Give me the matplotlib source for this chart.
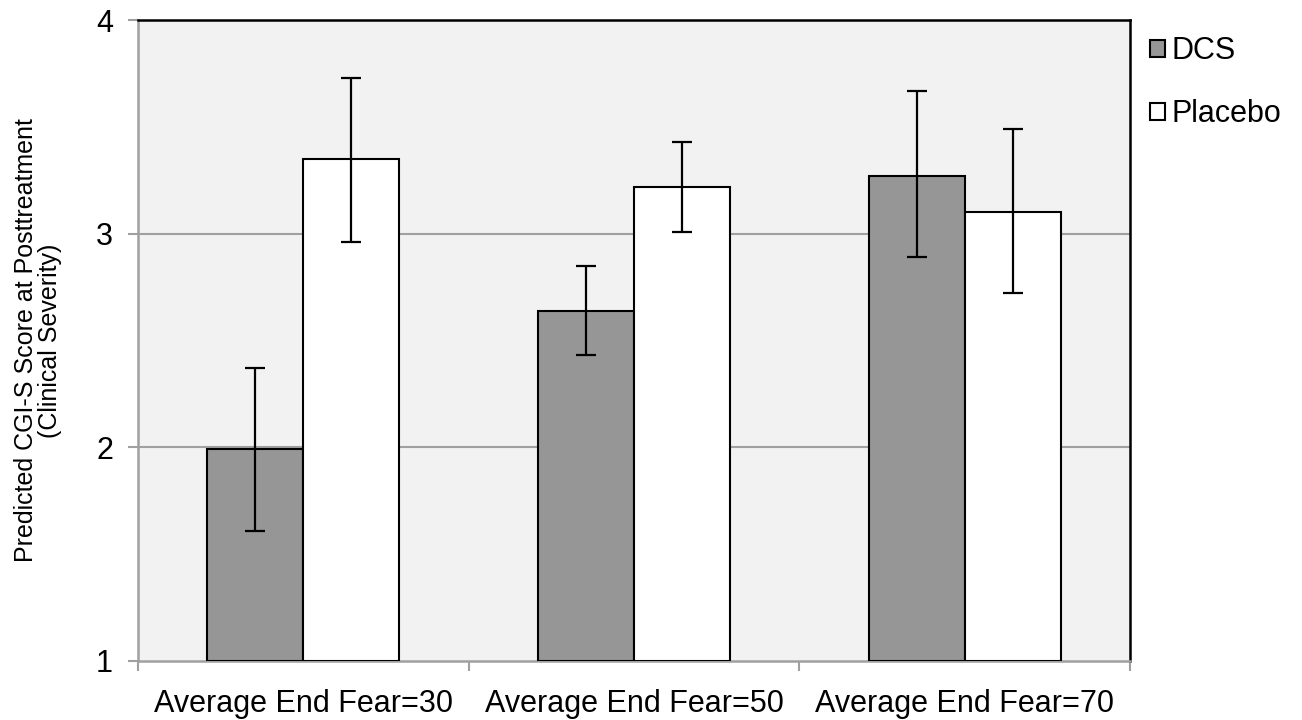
import matplotlib
matplotlib.use("Agg")
import matplotlib.pyplot as plt
import numpy as np

categories = ["Average End Fear=30", "Average End Fear=50", "Average End Fear=70"]
dcs = [1.99, 2.64, 3.27]
dcs_lo = [1.61, 2.43, 2.89]
dcs_hi = [2.37, 2.85, 3.67]
placebo = [3.35, 3.22, 3.10]
placebo_lo = [2.96, 3.01, 2.72]
placebo_hi = [3.73, 3.43, 3.49]
yticks = [1, 2, 3, 4]

plt.rcParams['font.family'] = ['Liberation Sans', 'DejaVu Sans']

fig = plt.figure(figsize=(13.02, 7.2), dpi=100)
ax = fig.add_axes([138/1302, 1-661/720, (1130-138)/1302, (661-20)/720])
ax.set_facecolor('#f2f2f2')

x = np.arange(len(categories))
w = 0.29
dcs = np.array(dcs); placebo = np.array(placebo)
dcs_err = [dcs - np.array(dcs_lo), np.array(dcs_hi) - dcs]
pl_err = [placebo - np.array(placebo_lo), np.array(placebo_hi) - placebo]

ax.bar(x - w/2, dcs - 1, w, bottom=1, color='#969696', edgecolor='black', linewidth=1.5,
       label='DCS', zorder=3)
ax.bar(x + w/2, placebo - 1, w, bottom=1, color='white', edgecolor='black', linewidth=1.5,
       label='Placebo', zorder=3)
ax.errorbar(x - w/2, dcs, yerr=dcs_err, fmt='none', ecolor='black', elinewidth=1.6,
            capsize=7, capthick=1.6, zorder=4)
ax.errorbar(x + w/2, placebo, yerr=pl_err, fmt='none', ecolor='black', elinewidth=1.6,
            capsize=7, capthick=1.6, zorder=4)

ax.set_ylim(1, 4)
ax.set_xlim(-0.5, 2.5)
ax.set_yticks(yticks)
ax.set_yticklabels([str(t) for t in yticks], fontsize=22)
for yv in [2, 3]:
    ax.axhline(yv, color='#a0a0a0', linewidth=1.5, zorder=1)

ax.set_xticks(x)
ax.set_xticklabels(categories, fontsize=22)
ax.set_xticks([-0.5, 0.5, 1.5, 2.5], minor=True)
ax.tick_params(axis='x', which='major', length=0, pad=20)
ax.tick_params(axis='x', which='minor', length=7, width=1.5, color='#a0a0a0', direction='out')
ax.tick_params(axis='y', length=7, width=1.5, color='#a0a0a0', direction='out', pad=11)

for s in ['left', 'bottom']:
    ax.spines[s].set_color('#a0a0a0')
    ax.spines[s].set_linewidth(1.8)
for s in ['top', 'right']:
    ax.spines[s].set_color('black')
    ax.spines[s].set_linewidth(1.8)

ax.set_ylabel("Predicted CGI-S Score at Posttreatment\n(Clinical Severity)", fontsize=18,
              linespacing=1.0)
ax.yaxis.set_label_coords(-0.0766, 0.5)

leg = ax.legend(loc='upper left', bbox_to_anchor=(1.008, 0.994), frameon=False,
                fontsize=22, handlelength=0.5, handleheight=0.5, handletextpad=0.2,
                labelspacing=1.08, borderaxespad=0)

fig.savefig("out.png", dpi=100)
